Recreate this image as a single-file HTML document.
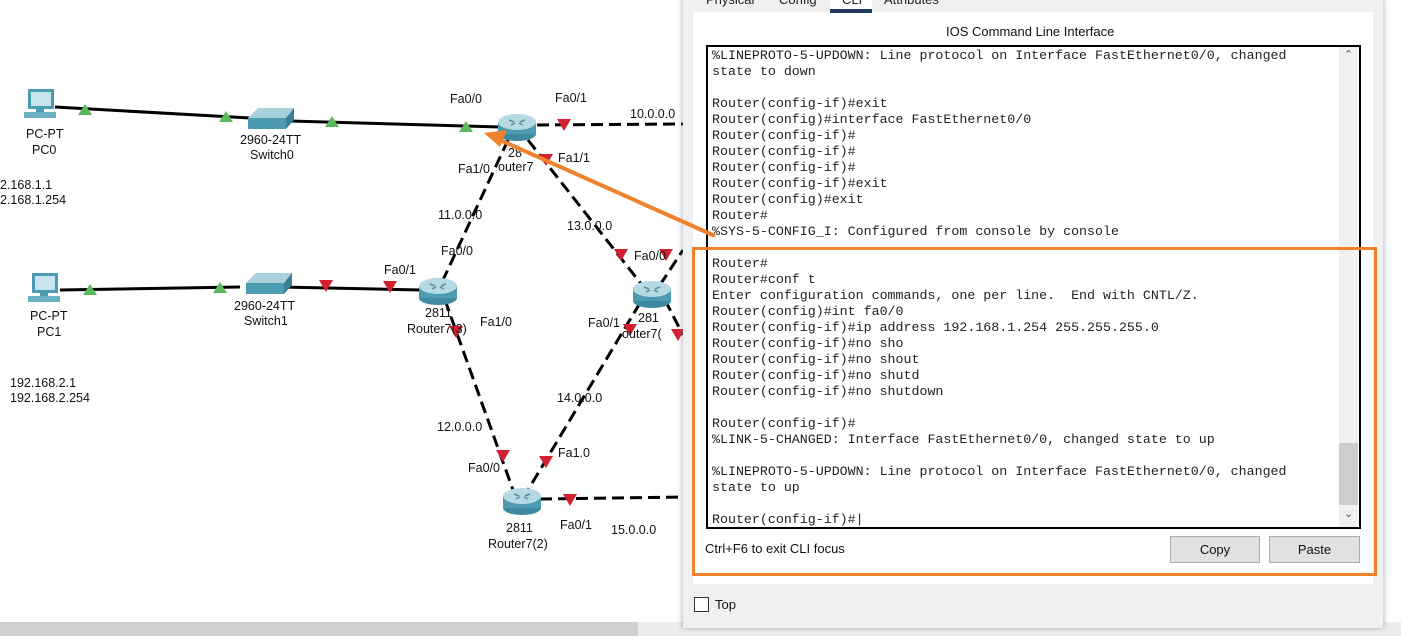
<!DOCTYPE html>
<html><head><meta charset="utf-8"><style>
body{margin:0;width:1401px;height:636px;overflow:hidden;background:#fff;position:relative;font-family:"Liberation Sans",sans-serif;}
svg text{font-family:"Liberation Sans",sans-serif;font-size:12.5px;fill:#111;}
.win{position:absolute;left:683px;top:-2px;width:700px;height:630px;background:#f0f0f0;box-shadow:-2px 0 4px rgba(120,130,160,.35),2px 0 4px rgba(120,130,160,.35);}
.inner{position:absolute;left:10px;top:14px;width:680px;height:572px;background:#fff;}
.cli{position:absolute;left:706px;top:45px;width:651px;height:480px;border:2px solid #000;background:#fff;overflow:hidden;}
.cli pre{margin:0;padding:1px 0 0 4px;font-family:"Liberation Mono",monospace;font-size:13.3px;line-height:16px;color:#222;}
.sb{position:absolute;left:1339px;top:47px;width:19px;height:480px;background:#f0f0f0;}
.btn{position:absolute;top:536px;height:25px;background:#e1e1e1;border:1px solid #adadad;font-size:13px;text-align:center;line-height:25px;color:#111;}
</style></head><body>
<svg width="1401" height="636" style="position:absolute;left:0;top:0">
<defs>
<g id="rt"><ellipse cx="0" cy="8" rx="19" ry="7" fill="#3e8aa0"/><rect x="-19" y="-4" width="38" height="12" fill="#4d9bb1"/><ellipse cx="0" cy="-4" rx="19" ry="8" fill="#b5dae3"/><path d="M-8,-6 l5,2 M8,-6 l-5,2 M-6,-1 l4,-2 M6,-1 l-4,-2" stroke="#5b8a98" stroke-width="1.5"/></g>
<g id="sw"><polygon points="-22,-2 -12,-12 24,-12 16,-2" fill="#a9cfda"/><rect x="-22" y="-2" width="38" height="11" fill="#4d9bb1"/><polygon points="16,-2 24,-12 24,0 16,9" fill="#3a7f93"/></g>
<g id="pc"><rect x="-14" y="-14" width="26" height="20" fill="#4d9bb1"/><rect x="-11" y="-11" width="20" height="14" fill="#c7e3ec"/><rect x="-18" y="9" width="32" height="6" fill="#6fb1c4"/><rect x="-6" y="6" width="8" height="3" fill="#4d9bb1"/></g>
<g id="ug"><polygon points="-7,5 7,5 0,-6" fill="#5cb85c"/></g>
<g id="dr"><polygon points="-7,-6 7,-6 0,6" fill="#d32030"/></g>
</defs>
<rect x="0" y="622" width="638" height="14" fill="#d0d0d0"/>
<rect x="638" y="622" width="763" height="14" fill="#ececec"/>
<g stroke="#000" stroke-width="3">
<line x1="55" y1="107" x2="250" y2="118"/><line x1="290" y1="121" x2="500" y2="127"/>
<line x1="60" y1="290" x2="240" y2="287"/><line x1="280" y1="287" x2="420" y2="290"/>
</g>
<g stroke="#000" stroke-width="3" stroke-dasharray="12,6" fill="none">
<line x1="537" y1="125" x2="683" y2="124"/>
<line x1="508" y1="140" x2="443" y2="280"/>
<line x1="528" y1="140" x2="642" y2="285"/>
<line x1="445" y1="300" x2="513" y2="490"/>
<line x1="640" y1="303" x2="528" y2="490"/>
<line x1="540" y1="499" x2="683" y2="497"/>
<line x1="665" y1="300" x2="683" y2="335"/>
<line x1="660" y1="285" x2="683" y2="250"/>
</g>
<use href="#pc" x="42" y="103"/><use href="#pc" x="46" y="287"/>
<use href="#sw" x="270" y="120"/><use href="#sw" x="268" y="285"/>
<use href="#rt" x="517" y="126"/><use href="#rt" x="438" y="290"/><use href="#rt" x="652" y="293"/><use href="#rt" x="522" y="500"/>
<use href="#ug" x="85" y="110"/><use href="#ug" x="226" y="117"/><use href="#ug" x="332" y="122"/><use href="#ug" x="466" y="127"/>
<use href="#ug" x="90" y="290"/><use href="#ug" x="220" y="288"/>
<use href="#dr" x="326" y="286"/><use href="#dr" x="390" y="287"/>
<use href="#dr" x="564" y="125"/><use href="#dr" x="546" y="160"/><use href="#dr" x="456" y="332"/>
<use href="#dr" x="621" y="255"/><use href="#dr" x="666" y="255"/><use href="#dr" x="630" y="330"/><use href="#dr" x="678" y="335"/>
<use href="#dr" x="503" y="456"/><use href="#dr" x="546" y="462"/><use href="#dr" x="570" y="500"/>
<text x="26" y="138">PC-PT</text><text x="32" y="154">PC0</text>
<text x="30" y="320">PC-PT</text><text x="37" y="336">PC1</text>
<text x="240" y="144">2960-24TT</text><text x="250" y="159">Switch0</text>
<text x="234" y="310">2960-24TT</text><text x="244" y="325">Switch1</text>
<text x="0" y="189">2.168.1.1</text><text x="0" y="204">2.168.1.254</text>
<text x="10" y="387">192.168.2.1</text><text x="10" y="402">192.168.2.254</text>
<text x="450" y="103">Fa0/0</text><text x="555" y="102">Fa0/1</text><text x="630" y="118">10.0.0.0</text>
<text x="558" y="162">Fa1/1</text><text x="458" y="173">Fa1/0</text><text x="498" y="171">outer7</text><text x="508" y="157">28</text>
<text x="438" y="219">11.0.0.0</text><text x="567" y="230">13.0.0.0</text>
<text x="441" y="255">Fa0/0</text><text x="634" y="260">Fa0/0</text>
<text x="384" y="274">Fa0/1</text><text x="425" y="317">2811</text><text x="407" y="333">Router7(3)</text>
<text x="480" y="326">Fa1/0</text><text x="588" y="327">Fa0/1</text><text x="638" y="322">281</text><text x="622" y="338">outer7(</text>
<text x="557" y="402">14.0.0.0</text><text x="437" y="431">12.0.0.0</text>
<text x="468" y="472">Fa0/0</text><text x="558" y="457">Fa1.0</text>
<text x="506" y="532">2811</text><text x="488" y="548">Router7(2)</text>
<text x="560" y="529">Fa0/1</text><text x="611" y="534">15.0.0.0</text>
</svg>
<div class="win"></div>
<div class="inner" style="left:693px;top:12px"></div>
<div style="position:absolute;left:683px;top:0;width:700px;height:12px;background:#f0f0f0"></div>
<div style="position:absolute;left:706px;top:-8px;font-size:13px;color:#222">Physical</div>
<div style="position:absolute;left:779px;top:-8px;font-size:13px;color:#222">Config</div>
<div style="position:absolute;left:830px;top:0;width:42px;height:12px;background:#fff"></div>
<div style="position:absolute;left:842px;top:-8px;font-size:13px;color:#222">CLI</div>
<div style="position:absolute;left:830px;top:9px;width:42px;height:4px;background:#1f3a5a"></div>
<div style="position:absolute;left:884px;top:-8px;font-size:13px;color:#222">Attributes</div>
<div style="position:absolute;left:880px;top:0;width:3px;height:12px;background:#f0f0f0"></div>
<div style="position:absolute;left:946px;top:24px;font-size:13px;color:#111">IOS Command Line Interface</div>
<div class="cli"><pre>%LINEPROTO-5-UPDOWN: Line protocol on Interface FastEthernet0/0, changed
state to down

Router(config-if)#exit
Router(config)#interface FastEthernet0/0
Router(config-if)#
Router(config-if)#
Router(config-if)#
Router(config-if)#exit
Router(config)#exit
Router#
%SYS-5-CONFIG_I: Configured from console by console

Router#
Router#conf t
Enter configuration commands, one per line.  End with CNTL/Z.
Router(config)#int fa0/0
Router(config-if)#ip address 192.168.1.254 255.255.255.0
Router(config-if)#no sho
Router(config-if)#no shout
Router(config-if)#no shutd
Router(config-if)#no shutdown

Router(config-if)#
%LINK-5-CHANGED: Interface FastEthernet0/0, changed state to up

%LINEPROTO-5-UPDOWN: Line protocol on Interface FastEthernet0/0, changed
state to up

Router(config-if)#|</pre></div>
<div class="sb"><div style="position:absolute;top:396px;left:0;width:19px;height:62px;background:#cdcdcd"></div>
<div style="position:absolute;top:1px;left:5px;font-size:11px;color:#555">&#8963;</div>
<div style="position:absolute;top:460px;left:5px;font-size:11px;color:#555">&#8964;</div></div>
<div style="position:absolute;left:705px;top:541px;font-size:13px;color:#111">Ctrl+F6 to exit CLI focus</div>
<div class="btn" style="left:1170px;width:88px">Copy</div>
<div class="btn" style="left:1269px;width:89px">Paste</div>
<div style="position:absolute;left:694px;top:597px;width:13px;height:13px;border:1px solid #333;background:#fff"></div>
<div style="position:absolute;left:715px;top:597px;font-size:13px;color:#111">Top</div>
<svg width="1401" height="636" style="position:absolute;left:0;top:0;pointer-events:none">
<rect x="693.5" y="248.5" width="682" height="326" fill="none" stroke="#f0822e" stroke-width="3"/>
<line x1="715" y1="236" x2="500" y2="140" stroke="#f0822e" stroke-width="4"/>
<polygon points="484,133 507,130 500,147" fill="#f0822e"/>
</svg>
</body></html>
